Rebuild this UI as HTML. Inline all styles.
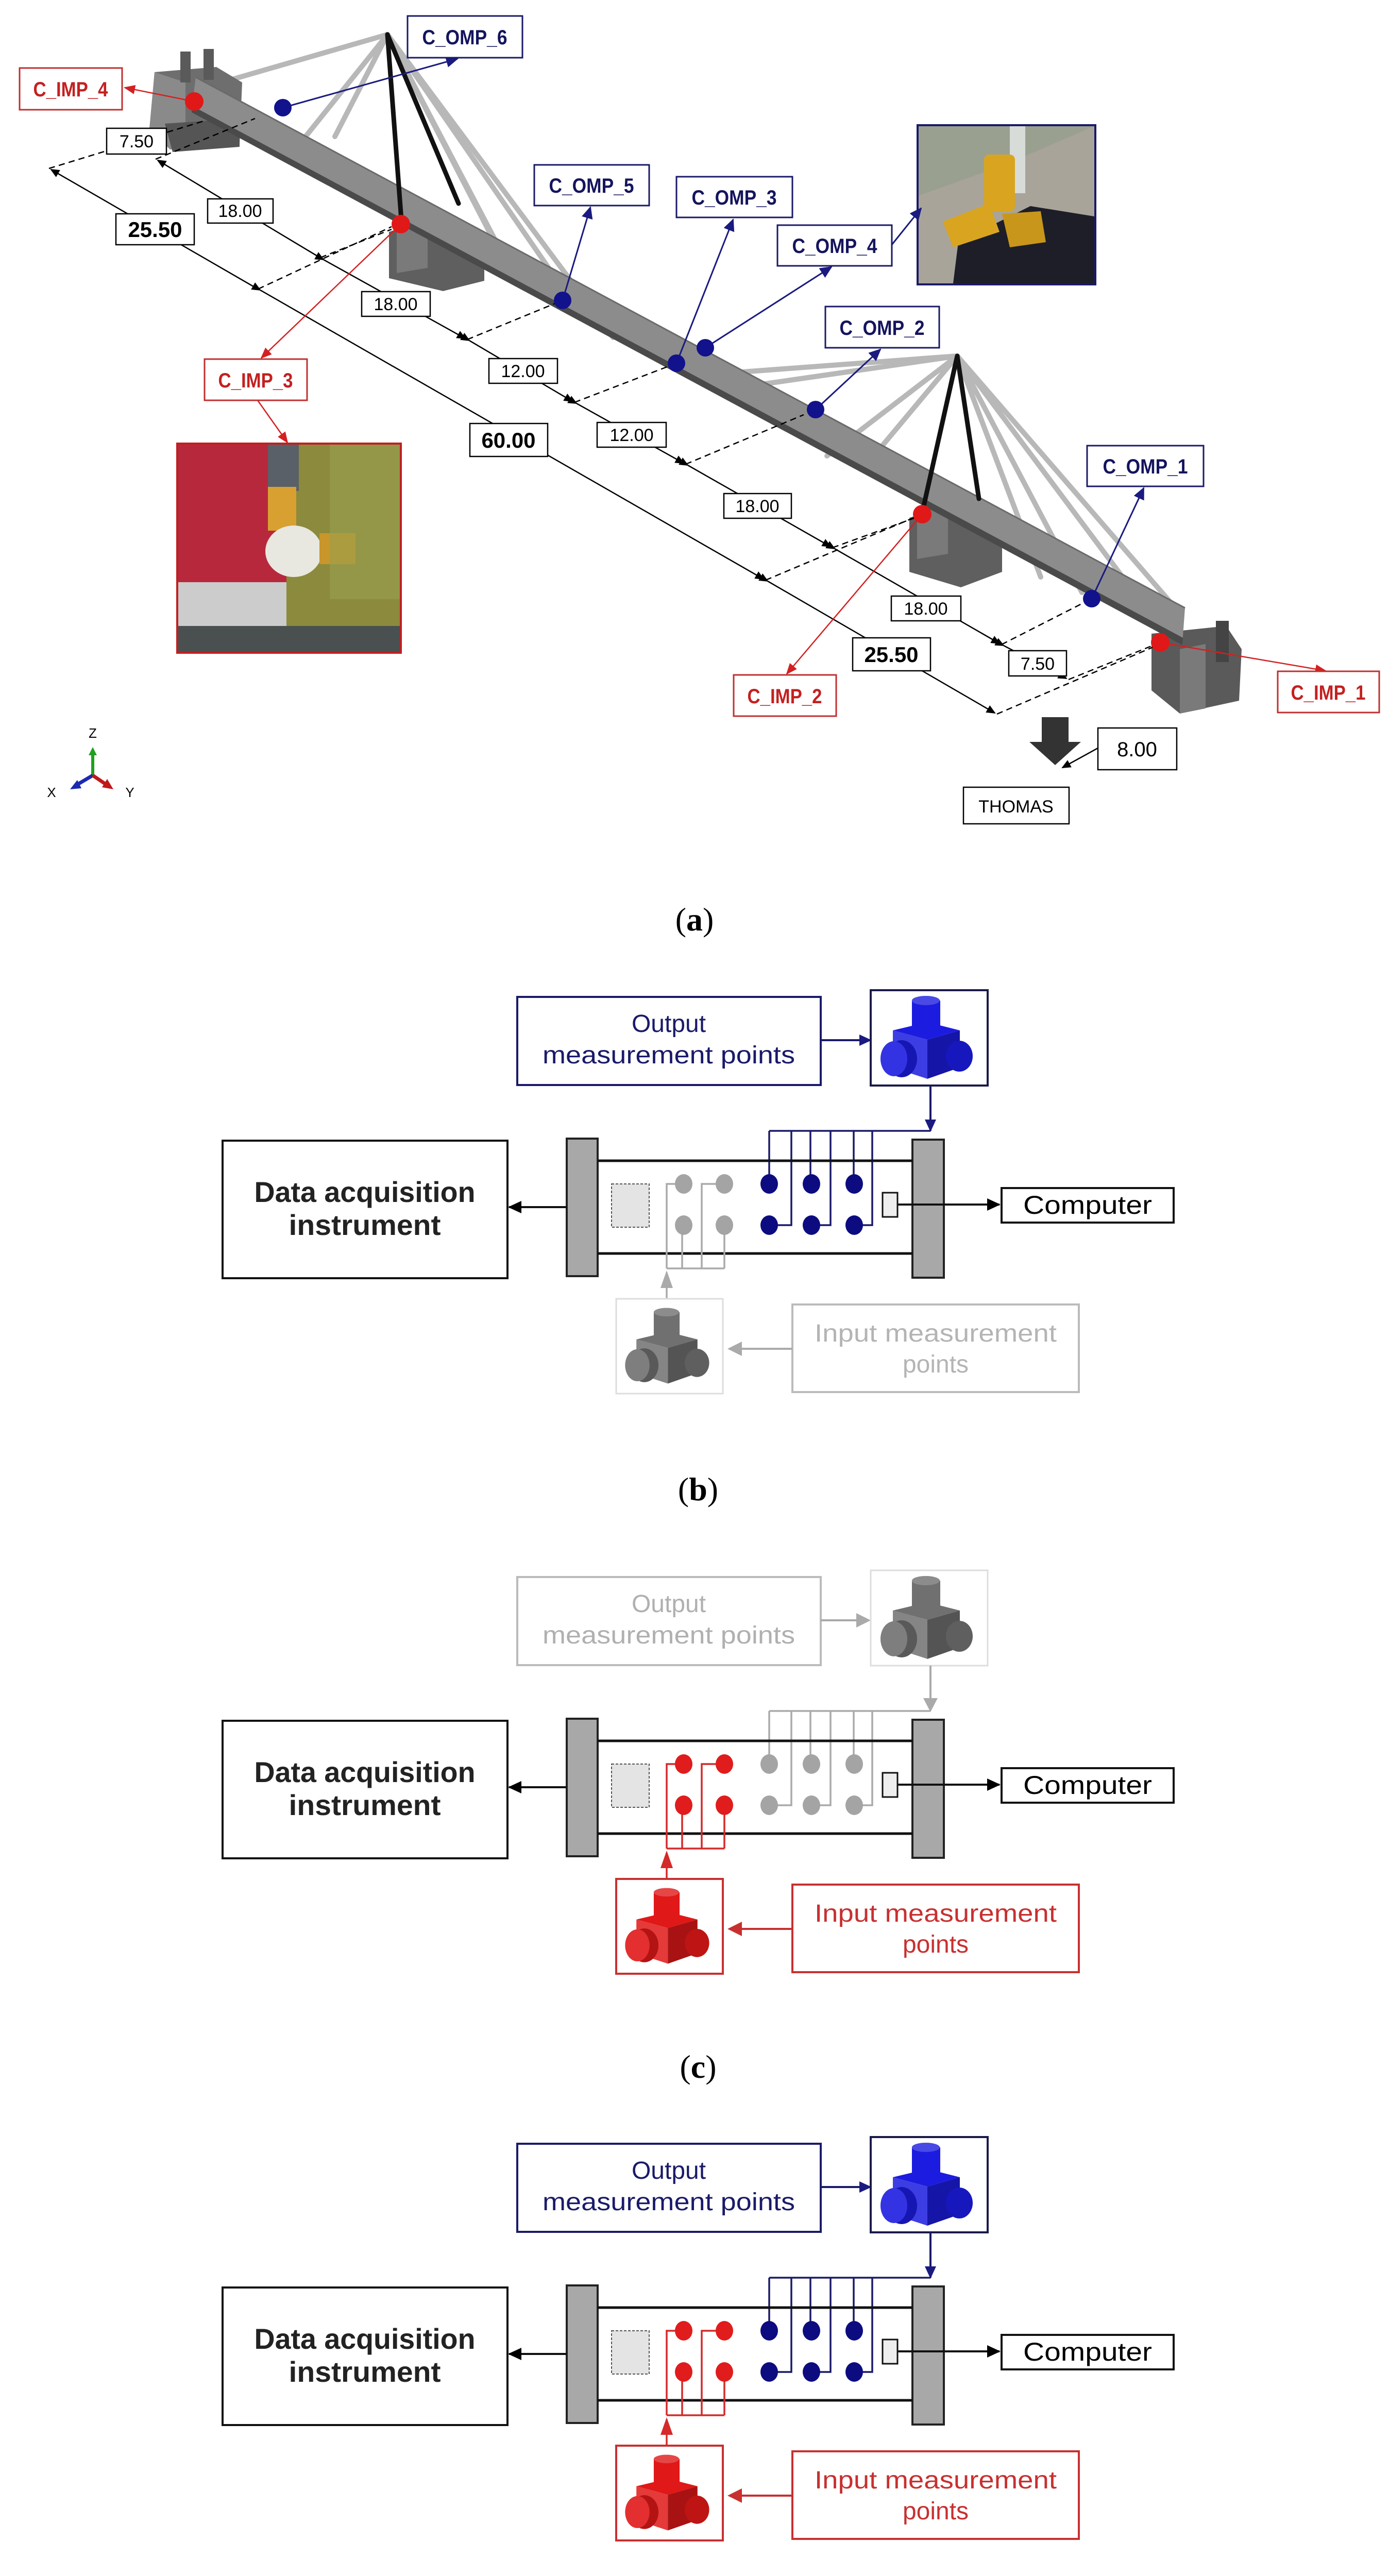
<!DOCTYPE html>
<html><head><meta charset="utf-8"><style>
html,body{margin:0;padding:0;background:#fff;width:2696px;height:5194px;overflow:hidden;}
svg{display:block;}
.lb{font-family:"Liberation Sans Narrow","Liberation Sans",sans-serif;font-weight:bold;}
.dm{font-family:"Liberation Sans Narrow","Liberation Sans",sans-serif;}
.cap{font-family:"Liberation Serif",serif;font-size:64px;}
.ar{font-family:"Liberation Sans",sans-serif;}
</style></head><body>
<svg width="2696" height="5194" viewBox="0 0 2696 5194" xmlns="http://www.w3.org/2000/svg">
<defs>
<marker id="mb" markerWidth="24" markerHeight="22" refX="22" refY="11" orient="auto" markerUnits="userSpaceOnUse" viewBox="0 0 24 22"><path d="M0,0 L24,11 L0,22z" fill="#1a1a80"/></marker>
<marker id="mr" markerWidth="22" markerHeight="18" refX="20" refY="9" orient="auto" markerUnits="userSpaceOnUse" viewBox="0 0 22 18"><path d="M0,0 L22,9 L0,18z" fill="#d42020"/></marker>
<marker id="mk" markerWidth="18" markerHeight="16" refX="16" refY="8" orient="auto" markerUnits="userSpaceOnUse" viewBox="0 0 18 16"><path d="M0,0 L18,8 L0,16z" fill="#000"/></marker>
<marker id="mk2" markerWidth="26" markerHeight="24" refX="24" refY="12" orient="auto" markerUnits="userSpaceOnUse" viewBox="0 0 26 24"><path d="M0,0 L26,12 L0,24z" fill="#000"/></marker>
<symbol id="sensor" viewBox="0 0 227 185">
 <polygon points="43,78 110,62 173,78 110,96" fill="currentColor"/>
 <polygon points="43,78 110,96 110,172 43,150" fill="currentColor"/>
 <polygon points="43,78 110,96 110,172 43,150" fill="#fff" opacity="0.15"/>
 <polygon points="110,96 173,78 173,150 110,172" fill="currentColor"/>
 <polygon points="110,96 173,78 173,150 110,172" fill="#000" opacity="0.25"/>
 <rect x="80" y="20" width="55" height="55" fill="currentColor"/>
 <ellipse cx="107" cy="20" rx="27" ry="9" fill="currentColor"/>
 <ellipse cx="107" cy="20" rx="27" ry="9" fill="#fff" opacity="0.2"/>
 <ellipse cx="60" cy="133" rx="30" ry="36" fill="currentColor"/>
 <ellipse cx="60" cy="133" rx="30" ry="36" fill="#000" opacity="0.2"/>
 <ellipse cx="45" cy="133" rx="26" ry="34" fill="currentColor"/>
 <ellipse cx="45" cy="133" rx="26" ry="34" fill="#fff" opacity="0.1"/>
 <ellipse cx="172" cy="128" rx="26" ry="30" fill="currentColor"/>
 <ellipse cx="172" cy="128" rx="26" ry="30" fill="#000" opacity="0.15"/>
</symbol>
</defs>

<!-- ===== PANEL A ===== -->
<g stroke="#b8b8b8" stroke-width="10" fill="none" stroke-linecap="round">
 <line x1="752" y1="67" x2="430" y2="160"/>
 <line x1="752" y1="67" x2="565" y2="300"/>
 <line x1="752" y1="67" x2="650" y2="265"/>
 <line x1="752" y1="67" x2="1000" y2="540"/>
 <line x1="752" y1="67" x2="1190" y2="655"/>
 <line x1="752" y1="67" x2="1120" y2="600"/>
 <line x1="752" y1="67" x2="960" y2="470"/>
 <line x1="1858" y1="691" x2="1440" y2="722"/>
 <line x1="1858" y1="691" x2="1450" y2="750"/>
 <line x1="1858" y1="691" x2="1605" y2="885"/>
 <line x1="1858" y1="691" x2="1700" y2="880"/>
 <line x1="1858" y1="691" x2="2290" y2="1190"/>
 <line x1="1858" y1="691" x2="2220" y2="1175"/>
 <line x1="1858" y1="691" x2="2020" y2="1120"/>
 <line x1="1858" y1="691" x2="2100" y2="1150"/>
</g>
<g>
 <polygon points="300,140 420,130 470,160 465,280 330,290 290,250" fill="#6e6e6e"/>
 <polygon points="300,140 360,160 360,285 330,290 290,250" fill="#8a8a8a"/>
 <rect x="350" y="100" width="20" height="60" fill="#5a5a5a"/>
 <rect x="395" y="95" width="20" height="60" fill="#5a5a5a"/>
 <polygon points="320,240 465,230 465,285 335,295" fill="#555"/>
</g>
<polygon points="755,450 850,420 905,440 940,500 940,545 860,565 755,540" fill="#5f5f5f"/>
<polygon points="770,440 830,425 830,520 770,530" fill="#7a7a7a"/>
<polygon points="1765,1005 1860,975 1910,1000 1945,1060 1945,1110 1865,1140 1765,1110" fill="#5f5f5f"/>
<polygon points="1780,995 1840,980 1840,1075 1780,1085" fill="#7a7a7a"/>
<g>
 <polygon points="2235,1230 2380,1215 2410,1260 2405,1360 2290,1385 2235,1340" fill="#5a5a5a"/>
 <polygon points="2290,1260 2340,1250 2340,1375 2290,1385" fill="#7a7a7a"/>
 <rect x="2360" y="1205" width="25" height="80" fill="#444"/>
</g>
<polygon points="380,150 2300,1180 2295,1248 372,212" fill="#8c8c8c"/>
<polygon points="372,205 2296,1238 2295,1252 372,218" fill="#4a4a4a"/>
<line x1="380" y1="150" x2="2300" y2="1180" stroke="#6a6a6a" stroke-width="3"/>
<g stroke="#111" stroke-width="9" stroke-linecap="round">
 <line x1="752" y1="67" x2="780" y2="440"/>
 <line x1="752" y1="67" x2="890" y2="395"/>
 <line x1="1858" y1="691" x2="1790" y2="995"/>
 <line x1="1858" y1="691" x2="1900" y2="968"/>
</g>
<!-- dimension lines -->
<g stroke="#000" stroke-width="2.5" fill="none">
 <line x1="497" y1="559" x2="99" y2="329" marker-end="url(#mk)"/>
 <line x1="505" y1="563" x2="1482" y2="1124" marker-start="url(#mk)" marker-end="url(#mk)"/>
 <line x1="1490" y1="1128" x2="1931" y2="1384" marker-start="url(#mk)" marker-end="url(#mk)"/>
 <line x1="616" y1="497" x2="306" y2="311" marker-end="url(#mk)"/>
 <line x1="628" y1="504" x2="903" y2="657" marker-start="url(#mk)" marker-end="url(#mk)"/>
 <line x1="911" y1="661" x2="1111" y2="779" marker-start="url(#mk)" marker-end="url(#mk)"/>
 <line x1="1119" y1="783" x2="1327" y2="899" marker-start="url(#mk)" marker-end="url(#mk)"/>
 <line x1="1335" y1="903" x2="1612" y2="1061" marker-start="url(#mk)" marker-end="url(#mk)"/>
 <line x1="1620" y1="1065" x2="1940" y2="1249" marker-start="url(#mk)" marker-end="url(#mk)"/>
 <line x1="1948" y1="1253" x2="2070" y2="1317" marker-start="url(#mk)" marker-end="url(#mk)"/>
</g>
<g stroke="#000" stroke-width="2.5" stroke-dasharray="12,8" fill="none">
 <line x1="95" y1="327" x2="395" y2="235"/>
 <line x1="302" y1="309" x2="495" y2="230"/>
 <line x1="501" y1="561" x2="760" y2="440"/>
 <line x1="622" y1="500" x2="760" y2="445"/>
 <line x1="907" y1="659" x2="1092" y2="583"/>
 <line x1="1115" y1="781" x2="1313" y2="705"/>
 <line x1="1331" y1="901" x2="1560" y2="805"/>
 <line x1="1486" y1="1126" x2="1790" y2="998"/>
 <line x1="1616" y1="1063" x2="1790" y2="1000"/>
 <line x1="1944" y1="1251" x2="2119" y2="1162"/>
 <line x1="2074" y1="1319" x2="2252" y2="1247"/>
 <line x1="1935" y1="1386" x2="2252" y2="1250"/>
</g>
<g class="dm" font-size="34" text-anchor="middle">
 <g fill="#fff" stroke="#000" stroke-width="2.5">
  <rect x="207" y="249" width="116" height="50"/>
  <rect x="403" y="386" width="127" height="47"/>
  <rect x="702" y="566" width="133" height="48"/>
  <rect x="949" y="696" width="133" height="48"/>
  <rect x="1159" y="820" width="134" height="48"/>
  <rect x="1405" y="958" width="131" height="48"/>
  <rect x="1730" y="1157" width="135" height="48"/>
  <rect x="1958" y="1263" width="112" height="49"/>
  <rect x="225" y="415" width="152" height="60"/>
  <rect x="912" y="822" width="151" height="64"/>
  <rect x="1655" y="1238" width="151" height="64"/>
  <rect x="2131" y="1413" width="153" height="81"/>
  <rect x="1870" y="1528" width="205" height="71"/>
 </g>
 <text x="265" y="286">7.50</text>
 <text x="466" y="421">18.00</text>
 <text x="768" y="602">18.00</text>
 <text x="1015" y="732">12.00</text>
 <text x="1226" y="856">12.00</text>
 <text x="1470" y="994">18.00</text>
 <text x="1797" y="1193">18.00</text>
 <text x="2014" y="1300">7.50</text>
 <g font-weight="bold" font-size="42">
  <text x="301" y="460">25.50</text>
  <text x="987" y="869">60.00</text>
  <text x="1730" y="1285">25.50</text>
  <text x="2207" y="1468" font-weight="normal" font-size="40">8.00</text>
 </g>
 <text x="1972" y="1577" font-size="34">THOMAS</text>
</g>
<polygon points="2022,1392 2074,1392 2074,1440 2098,1440 2048,1485 1998,1440 2022,1440" fill="#333"/>
<line x1="2131" y1="1452" x2="2062" y2="1490" stroke="#000" stroke-width="2.5" marker-end="url(#mk)"/>
<g>
 <rect x="1781" y="243" width="345" height="309" fill="#a9a49a" stroke="#1a1a6a" stroke-width="4"/>
 <polygon points="1783,245 2124,245 1950,320 1783,380" fill="#9aa090"/>
 <rect x="1960" y="245" width="30" height="130" fill="#d8dcd8"/>
 <polygon points="1860,470 2000,400 2124,420 2124,550 1850,550" fill="#1e1e28"/>
 <rect x="1910" y="300" width="60" height="110" rx="10" fill="#d9a520"/>
 <polygon points="1830,430 1920,395 1940,450 1850,480" fill="#d9a520"/>
 <polygon points="1945,415 2020,410 2030,470 1960,480" fill="#c8961a"/>
</g>
<g>
 <rect x="344" y="861" width="434" height="406" fill="#8c8a3c" stroke="#c02020" stroke-width="4"/>
 <rect x="346" y="863" width="210" height="270" fill="#b8283c"/>
 <rect x="346" y="1130" width="210" height="85" fill="#ccc"/>
 <rect x="346" y="1215" width="430" height="50" fill="#4a5050"/>
 <rect x="520" y="863" width="60" height="90" fill="#5a6068"/>
 <rect x="520" y="945" width="55" height="85" fill="#d8a030"/>
 <ellipse cx="570" cy="1070" rx="55" ry="50" fill="#e8e8e0"/>
 <rect x="620" y="1035" width="70" height="60" fill="#c8962a"/>
 <rect x="640" y="863" width="136" height="300" fill="#9aa050" opacity="0.6"/>
</g>
<g stroke="#1a1a80" stroke-width="3" fill="none">
 <line x1="549" y1="209" x2="888" y2="114" marker-end="url(#mb)"/>
 <line x1="1092" y1="583" x2="1146" y2="402" marker-end="url(#mb)"/>
 <line x1="1313" y1="705" x2="1423" y2="426" marker-end="url(#mb)"/>
 <line x1="1369" y1="675" x2="1614" y2="518" marker-end="url(#mb)"/>
 <line x1="1583" y1="795" x2="1709" y2="678" marker-end="url(#mb)"/>
 <line x1="2119" y1="1162" x2="2220" y2="947" marker-end="url(#mb)"/>
 <line x1="1731" y1="475" x2="1788" y2="404" marker-end="url(#mb)"/>
</g>
<g stroke="#d42020" stroke-width="2.5" fill="none">
 <line x1="377" y1="197" x2="242" y2="170" marker-end="url(#mr)"/>
 <line x1="778" y1="435" x2="507" y2="695" marker-end="url(#mr)"/>
 <line x1="500" y1="777" x2="558" y2="859" marker-end="url(#mr)"/>
 <line x1="1790" y1="998" x2="1527" y2="1308" marker-end="url(#mr)"/>
 <line x1="2252" y1="1247" x2="2573" y2="1302" marker-end="url(#mr)"/>
</g>
<g fill="#e01818">
 <circle cx="377" cy="197" r="18"/><circle cx="778" cy="435" r="18"/>
 <circle cx="1790" cy="998" r="18"/><circle cx="2252" cy="1247" r="18"/>
</g>
<g fill="#12128c">
 <circle cx="549" cy="209" r="17"/><circle cx="1092" cy="583" r="17"/>
 <circle cx="1313" cy="705" r="17"/><circle cx="1369" cy="675" r="17"/>
 <circle cx="1583" cy="795" r="17"/><circle cx="2119" cy="1162" r="17"/>
</g>
<g class="lb" font-size="40" text-anchor="middle">
 <g fill="#fff" stroke="#1a1a6a" stroke-width="3">
  <rect x="791" y="31" width="223" height="81"/>
  <rect x="1037" y="320" width="223" height="79"/>
  <rect x="1313" y="343" width="225" height="79"/>
  <rect x="1509" y="437" width="222" height="79"/>
  <rect x="1602" y="595" width="221" height="80"/>
  <rect x="2110" y="865" width="226" height="79"/>
 </g>
 <g fill="#fff" stroke="#c03030" stroke-width="3">
  <rect x="38" y="132" width="199" height="81"/>
  <rect x="397" y="697" width="199" height="80"/>
  <rect x="1424" y="1310" width="199" height="80"/>
  <rect x="2480" y="1303" width="197" height="80"/>
 </g>
 <g fill="#14145e">
  <text x="902" y="86" textLength="165" lengthAdjust="spacingAndGlyphs">C_OMP_6</text>
  <text x="1148" y="374" textLength="165" lengthAdjust="spacingAndGlyphs">C_OMP_5</text>
  <text x="1425" y="397" textLength="165" lengthAdjust="spacingAndGlyphs">C_OMP_3</text>
  <text x="1620" y="491" textLength="165" lengthAdjust="spacingAndGlyphs">C_OMP_4</text>
  <text x="1712" y="650" textLength="165" lengthAdjust="spacingAndGlyphs">C_OMP_2</text>
  <text x="2223" y="919" textLength="165" lengthAdjust="spacingAndGlyphs">C_OMP_1</text>
 </g>
 <g fill="#c42020">
  <text x="137" y="187" textLength="145" lengthAdjust="spacingAndGlyphs">C_IMP_4</text>
  <text x="496" y="752" textLength="145" lengthAdjust="spacingAndGlyphs">C_IMP_3</text>
  <text x="1523" y="1365" textLength="145" lengthAdjust="spacingAndGlyphs">C_IMP_2</text>
  <text x="2578" y="1358" textLength="145" lengthAdjust="spacingAndGlyphs">C_IMP_1</text>
 </g>
</g>
<g>
 <text x="180" y="1432" class="ar" font-size="26" text-anchor="middle">Z</text>
 <line x1="180" y1="1505" x2="180" y2="1462" stroke="#20a020" stroke-width="6"/>
 <polygon points="172,1466 188,1466 180,1450" fill="#20a020"/>
 <line x1="180" y1="1505" x2="148" y2="1524" stroke="#1a2ab0" stroke-width="7"/>
 <polygon points="150,1514 158,1530 136,1532" fill="#1a2ab0"/>
 <line x1="180" y1="1505" x2="205" y2="1522" stroke="#c01818" stroke-width="7"/>
 <polygon points="198,1528 208,1512 220,1532" fill="#c01818"/>
 <text x="100" y="1547" class="ar" font-size="26" text-anchor="middle">X</text>
 <text x="252" y="1547" class="ar" font-size="26" text-anchor="middle">Y</text>
</g>
<text x="1348" y="1806" class="cap" text-anchor="middle">(<tspan font-weight="bold">a</tspan>)</text>

<!-- ===== PANEL B ===== -->
<g transform="translate(0,0)">
 <g class="ar">
  <rect x="1004" y="1935" width="589" height="171" fill="#fff" stroke="#1a1a6a" stroke-width="4"/>
  <text x="1298" y="2003" font-size="48" fill="#1a1a6a" text-anchor="middle">Output</text>
  <text x="1298" y="2064" font-size="48" fill="#1a1a6a" text-anchor="middle" textLength="490" lengthAdjust="spacingAndGlyphs">measurement points</text>
  <line x1="1593" y1="2019" x2="1690" y2="2019" stroke="#1a1a6a" stroke-width="4" marker-end="url(#mb)"/>
  <rect x="1690" y="1922" width="227" height="185" fill="#fff" stroke="#1a1a4a" stroke-width="4"/>
  <use href="#sensor" x="1690" y="1922" width="227" height="185" color="#1c1ce0"/>
  <line x1="1806" y1="2107" x2="1806" y2="2195" stroke="#1a1a6a" stroke-width="4" marker-end="url(#mb)"/>
  <g stroke="#1a1a6a" stroke-width="3.5" fill="none">
   <line x1="1493" y1="2195" x2="1806" y2="2195"/>
   <line x1="1493" y1="2195" x2="1493" y2="2298"/>
   <polyline points="1536,2195 1536,2378 1493,2378"/>
   <line x1="1573" y1="2195" x2="1573" y2="2298"/>
   <polyline points="1612,2195 1612,2378 1575,2378"/>
   <line x1="1657" y1="2195" x2="1657" y2="2298"/>
   <polyline points="1693,2195 1693,2378 1658,2378"/>
  </g>
  <rect x="1100" y="2210" width="60" height="267" fill="#a8a8a8" stroke="#222" stroke-width="4"/>
  <rect x="1771" y="2212" width="61" height="268" fill="#a8a8a8" stroke="#222" stroke-width="4"/>
  <line x1="1160" y1="2253" x2="1771" y2="2253" stroke="#111" stroke-width="5"/>
  <line x1="1160" y1="2433" x2="1771" y2="2433" stroke="#111" stroke-width="5"/>
  <rect x="1187" y="2298" width="73" height="84" fill="#e4e4e4" stroke="#555" stroke-width="2" stroke-dasharray="5,3"/>
  <g stroke="#aaa" stroke-width="3.5" fill="none">
   <polyline points="1294,2462 1294,2298 1327,2298"/>
   <line x1="1324" y1="2378" x2="1324" y2="2462"/>
   <polyline points="1362,2462 1362,2298 1406,2298"/>
   <line x1="1406" y1="2378" x2="1406" y2="2462"/>
   <line x1="1294" y1="2462" x2="1406" y2="2462"/>
   <line x1="1294" y1="2521" x2="1294" y2="2470"/>
  </g>
  <polygon points="1282,2500 1306,2500 1294,2466" fill="#aaa"/>
  <g fill="#a4a4a4"><ellipse cx="1327" cy="2298" rx="17" ry="19"/><ellipse cx="1406" cy="2298" rx="17" ry="19"/><ellipse cx="1327" cy="2378" rx="17" ry="19"/><ellipse cx="1406" cy="2378" rx="17" ry="19"/></g>
  <g fill="#0c0c80"><ellipse cx="1493" cy="2298" rx="17" ry="19"/><ellipse cx="1575" cy="2298" rx="17" ry="19"/><ellipse cx="1658" cy="2298" rx="17" ry="19"/><ellipse cx="1493" cy="2378" rx="17" ry="19"/><ellipse cx="1575" cy="2378" rx="17" ry="19"/><ellipse cx="1658" cy="2378" rx="17" ry="19"/></g>
  <rect x="1713" y="2315" width="29" height="47" fill="#eee" stroke="#111" stroke-width="3"/>
  <line x1="1742" y1="2338" x2="1940" y2="2338" stroke="#111" stroke-width="4" marker-end="url(#mk2)"/>
  <rect x="1944" y="2306" width="334" height="67" fill="#fff" stroke="#111" stroke-width="4"/>
  <text x="2111" y="2356" font-size="50" text-anchor="middle" textLength="250" lengthAdjust="spacingAndGlyphs">Computer</text>
  <line x1="1100" y1="2343" x2="988" y2="2343" stroke="#111" stroke-width="4" marker-end="url(#mk2)"/>
  <rect x="432" y="2214" width="553" height="267" fill="#fff" stroke="#111" stroke-width="4"/>
  <text x="708" y="2333" font-size="56" font-weight="bold" fill="#222" text-anchor="middle" textLength="429" lengthAdjust="spacingAndGlyphs">Data acquisition</text>
  <text x="708" y="2397" font-size="56" font-weight="bold" fill="#222" text-anchor="middle" textLength="295" lengthAdjust="spacingAndGlyphs">instrument</text>
  <rect x="1196" y="2521" width="207" height="184" fill="#fff" stroke="#ddd" stroke-width="3"/>
  <use href="#sensor" x="1196" y="2521" width="207" height="184" color="#707070"/>
  <rect x="1538" y="2532" width="556" height="170" fill="#fff" stroke="#bbb" stroke-width="4"/>
  <text x="1816" y="2604" font-size="48" fill="#b4b4b4" text-anchor="middle" textLength="470" lengthAdjust="spacingAndGlyphs">Input measurement</text>
  <text x="1816" y="2664" font-size="48" fill="#b4b4b4" text-anchor="middle">points</text>
  <line x1="1538" y1="2618" x2="1418" y2="2618" stroke="#aaa" stroke-width="4"/>
  <polygon points="1412,2618 1440,2604 1440,2632" fill="#aaa"/>
 </g>
</g>
<text x="1355" y="2912" class="cap" text-anchor="middle">(<tspan font-weight="bold">b</tspan>)</text>

<!-- ===== PANEL C ===== -->
<g transform="translate(0,1126)">
 <g class="ar">
  <rect x="1004" y="1935" width="589" height="171" fill="#fff" stroke="#bbb" stroke-width="4"/>
  <text x="1298" y="2003" font-size="48" fill="#b0b0b0" text-anchor="middle">Output</text>
  <text x="1298" y="2064" font-size="48" fill="#b0b0b0" text-anchor="middle" textLength="490" lengthAdjust="spacingAndGlyphs">measurement points</text>
  <line x1="1593" y1="2019" x2="1675" y2="2019" stroke="#aaa" stroke-width="4"/>
  <polygon points="1690,2019 1662,2005 1662,2033" fill="#aaa"/>
  <rect x="1690" y="1922" width="227" height="185" fill="#fff" stroke="#ddd" stroke-width="3"/>
  <use href="#sensor" x="1690" y="1922" width="227" height="185" color="#707070"/>
  <line x1="1806" y1="2107" x2="1806" y2="2180" stroke="#aaa" stroke-width="4"/>
  <polygon points="1792,2170 1820,2170 1806,2197" fill="#aaa"/>
  <g stroke="#aaa" stroke-width="3.5" fill="none">
   <line x1="1493" y1="2195" x2="1806" y2="2195"/>
   <line x1="1493" y1="2195" x2="1493" y2="2298"/>
   <polyline points="1536,2195 1536,2378 1493,2378"/>
   <line x1="1573" y1="2195" x2="1573" y2="2298"/>
   <polyline points="1612,2195 1612,2378 1575,2378"/>
   <line x1="1657" y1="2195" x2="1657" y2="2298"/>
   <polyline points="1693,2195 1693,2378 1658,2378"/>
  </g>
  <rect x="1100" y="2210" width="60" height="267" fill="#a8a8a8" stroke="#222" stroke-width="4"/>
  <rect x="1771" y="2212" width="61" height="268" fill="#a8a8a8" stroke="#222" stroke-width="4"/>
  <line x1="1160" y1="2253" x2="1771" y2="2253" stroke="#111" stroke-width="5"/>
  <line x1="1160" y1="2433" x2="1771" y2="2433" stroke="#111" stroke-width="5"/>
  <rect x="1187" y="2298" width="73" height="84" fill="#e4e4e4" stroke="#555" stroke-width="2" stroke-dasharray="5,3"/>
  <g stroke="#d42a2a" stroke-width="3.5" fill="none">
   <polyline points="1294,2462 1294,2298 1327,2298"/>
   <line x1="1324" y1="2378" x2="1324" y2="2462"/>
   <polyline points="1362,2462 1362,2298 1406,2298"/>
   <line x1="1406" y1="2378" x2="1406" y2="2462"/>
   <line x1="1294" y1="2462" x2="1406" y2="2462"/>
   <line x1="1294" y1="2521" x2="1294" y2="2470"/>
  </g>
  <polygon points="1282,2500 1306,2500 1294,2466" fill="#d42a2a"/>
  <g fill="#e01c1c"><ellipse cx="1327" cy="2298" rx="17" ry="19"/><ellipse cx="1406" cy="2298" rx="17" ry="19"/><ellipse cx="1327" cy="2378" rx="17" ry="19"/><ellipse cx="1406" cy="2378" rx="17" ry="19"/></g>
  <g fill="#a4a4a4"><ellipse cx="1493" cy="2298" rx="17" ry="19"/><ellipse cx="1575" cy="2298" rx="17" ry="19"/><ellipse cx="1658" cy="2298" rx="17" ry="19"/><ellipse cx="1493" cy="2378" rx="17" ry="19"/><ellipse cx="1575" cy="2378" rx="17" ry="19"/><ellipse cx="1658" cy="2378" rx="17" ry="19"/></g>
  <rect x="1713" y="2315" width="29" height="47" fill="#eee" stroke="#111" stroke-width="3"/>
  <line x1="1742" y1="2338" x2="1940" y2="2338" stroke="#111" stroke-width="4" marker-end="url(#mk2)"/>
  <rect x="1944" y="2306" width="334" height="67" fill="#fff" stroke="#111" stroke-width="4"/>
  <text x="2111" y="2356" font-size="50" text-anchor="middle" textLength="250" lengthAdjust="spacingAndGlyphs">Computer</text>
  <line x1="1100" y1="2343" x2="988" y2="2343" stroke="#111" stroke-width="4" marker-end="url(#mk2)"/>
  <rect x="432" y="2214" width="553" height="267" fill="#fff" stroke="#111" stroke-width="4"/>
  <text x="708" y="2333" font-size="56" font-weight="bold" fill="#222" text-anchor="middle" textLength="429" lengthAdjust="spacingAndGlyphs">Data acquisition</text>
  <text x="708" y="2397" font-size="56" font-weight="bold" fill="#222" text-anchor="middle" textLength="295" lengthAdjust="spacingAndGlyphs">instrument</text>
  <rect x="1196" y="2521" width="207" height="184" fill="#fff" stroke="#c83030" stroke-width="4"/>
  <use href="#sensor" x="1196" y="2521" width="207" height="184" color="#e01818"/>
  <rect x="1538" y="2532" width="556" height="170" fill="#fff" stroke="#c83030" stroke-width="4"/>
  <text x="1816" y="2604" font-size="48" fill="#c83030" text-anchor="middle" textLength="470" lengthAdjust="spacingAndGlyphs">Input measurement</text>
  <text x="1816" y="2664" font-size="48" fill="#c83030" text-anchor="middle">points</text>
  <line x1="1538" y1="2618" x2="1418" y2="2618" stroke="#c83030" stroke-width="4"/>
  <polygon points="1412,2618 1440,2604 1440,2632" fill="#c83030"/>
 </g>
</g>
<text x="1355" y="4033" class="cap" text-anchor="middle">(<tspan font-weight="bold">c</tspan>)</text>

<!-- ===== PANEL D ===== -->
<g transform="translate(0,2226)">
 <g class="ar">
  <rect x="1004" y="1935" width="589" height="171" fill="#fff" stroke="#1a1a6a" stroke-width="4"/>
  <text x="1298" y="2003" font-size="48" fill="#1a1a6a" text-anchor="middle">Output</text>
  <text x="1298" y="2064" font-size="48" fill="#1a1a6a" text-anchor="middle" textLength="490" lengthAdjust="spacingAndGlyphs">measurement points</text>
  <line x1="1593" y1="2019" x2="1690" y2="2019" stroke="#1a1a6a" stroke-width="4" marker-end="url(#mb)"/>
  <rect x="1690" y="1922" width="227" height="185" fill="#fff" stroke="#1a1a4a" stroke-width="4"/>
  <use href="#sensor" x="1690" y="1922" width="227" height="185" color="#1c1ce0"/>
  <line x1="1806" y1="2107" x2="1806" y2="2195" stroke="#1a1a6a" stroke-width="4" marker-end="url(#mb)"/>
  <g stroke="#1a1a6a" stroke-width="3.5" fill="none">
   <line x1="1493" y1="2195" x2="1806" y2="2195"/>
   <line x1="1493" y1="2195" x2="1493" y2="2298"/>
   <polyline points="1536,2195 1536,2378 1493,2378"/>
   <line x1="1573" y1="2195" x2="1573" y2="2298"/>
   <polyline points="1612,2195 1612,2378 1575,2378"/>
   <line x1="1657" y1="2195" x2="1657" y2="2298"/>
   <polyline points="1693,2195 1693,2378 1658,2378"/>
  </g>
  <rect x="1100" y="2210" width="60" height="267" fill="#a8a8a8" stroke="#222" stroke-width="4"/>
  <rect x="1771" y="2212" width="61" height="268" fill="#a8a8a8" stroke="#222" stroke-width="4"/>
  <line x1="1160" y1="2253" x2="1771" y2="2253" stroke="#111" stroke-width="5"/>
  <line x1="1160" y1="2433" x2="1771" y2="2433" stroke="#111" stroke-width="5"/>
  <rect x="1187" y="2298" width="73" height="84" fill="#e4e4e4" stroke="#555" stroke-width="2" stroke-dasharray="5,3"/>
  <g stroke="#d42a2a" stroke-width="3.5" fill="none">
   <polyline points="1294,2462 1294,2298 1327,2298"/>
   <line x1="1324" y1="2378" x2="1324" y2="2462"/>
   <polyline points="1362,2462 1362,2298 1406,2298"/>
   <line x1="1406" y1="2378" x2="1406" y2="2462"/>
   <line x1="1294" y1="2462" x2="1406" y2="2462"/>
   <line x1="1294" y1="2521" x2="1294" y2="2470"/>
  </g>
  <polygon points="1282,2500 1306,2500 1294,2466" fill="#d42a2a"/>
  <g fill="#e01c1c"><ellipse cx="1327" cy="2298" rx="17" ry="19"/><ellipse cx="1406" cy="2298" rx="17" ry="19"/><ellipse cx="1327" cy="2378" rx="17" ry="19"/><ellipse cx="1406" cy="2378" rx="17" ry="19"/></g>
  <g fill="#0c0c80"><ellipse cx="1493" cy="2298" rx="17" ry="19"/><ellipse cx="1575" cy="2298" rx="17" ry="19"/><ellipse cx="1658" cy="2298" rx="17" ry="19"/><ellipse cx="1493" cy="2378" rx="17" ry="19"/><ellipse cx="1575" cy="2378" rx="17" ry="19"/><ellipse cx="1658" cy="2378" rx="17" ry="19"/></g>
  <rect x="1713" y="2315" width="29" height="47" fill="#eee" stroke="#111" stroke-width="3"/>
  <line x1="1742" y1="2338" x2="1940" y2="2338" stroke="#111" stroke-width="4" marker-end="url(#mk2)"/>
  <rect x="1944" y="2306" width="334" height="67" fill="#fff" stroke="#111" stroke-width="4"/>
  <text x="2111" y="2356" font-size="50" text-anchor="middle" textLength="250" lengthAdjust="spacingAndGlyphs">Computer</text>
  <line x1="1100" y1="2343" x2="988" y2="2343" stroke="#111" stroke-width="4" marker-end="url(#mk2)"/>
  <rect x="432" y="2214" width="553" height="267" fill="#fff" stroke="#111" stroke-width="4"/>
  <text x="708" y="2333" font-size="56" font-weight="bold" fill="#222" text-anchor="middle" textLength="429" lengthAdjust="spacingAndGlyphs">Data acquisition</text>
  <text x="708" y="2397" font-size="56" font-weight="bold" fill="#222" text-anchor="middle" textLength="295" lengthAdjust="spacingAndGlyphs">instrument</text>
  <rect x="1196" y="2521" width="207" height="184" fill="#fff" stroke="#c83030" stroke-width="4"/>
  <use href="#sensor" x="1196" y="2521" width="207" height="184" color="#e01818"/>
  <rect x="1538" y="2532" width="556" height="170" fill="#fff" stroke="#c83030" stroke-width="4"/>
  <text x="1816" y="2604" font-size="48" fill="#c83030" text-anchor="middle" textLength="470" lengthAdjust="spacingAndGlyphs">Input measurement</text>
  <text x="1816" y="2664" font-size="48" fill="#c83030" text-anchor="middle">points</text>
  <line x1="1538" y1="2618" x2="1418" y2="2618" stroke="#c83030" stroke-width="4"/>
  <polygon points="1412,2618 1440,2604 1440,2632" fill="#c83030"/>
 </g>
</g>
<text x="1355" y="5150" class="cap" text-anchor="middle">(<tspan font-weight="bold">d</tspan>)</text>
</svg>
</body></html>
